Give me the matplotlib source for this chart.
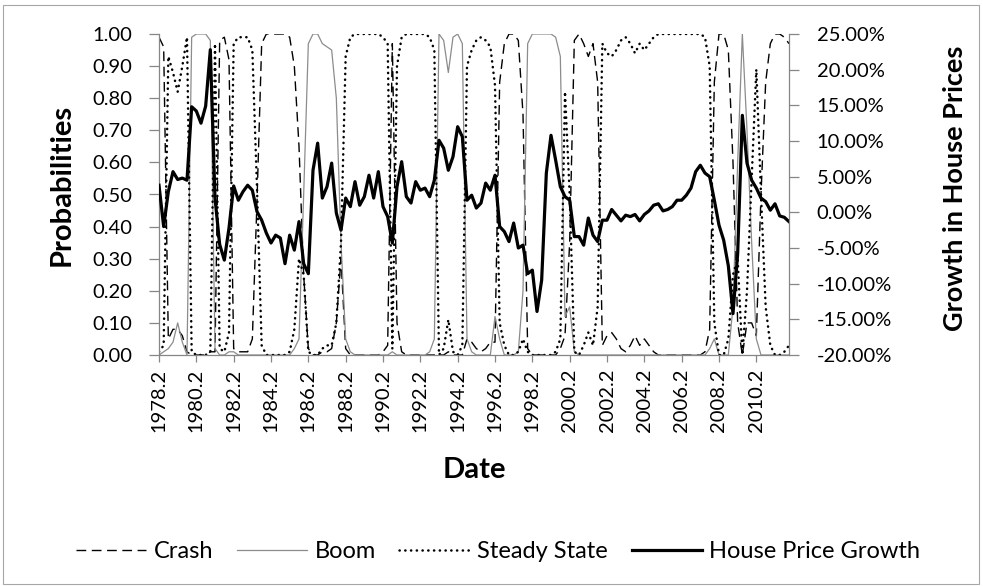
import matplotlib
matplotlib.use("Agg")
import matplotlib.pyplot as plt
from matplotlib.patches import Rectangle
from matplotlib.ticker import FuncFormatter, MultipleLocator
import numpy as np

plt.rcParams['font.family'] = ['Lato', 'DejaVu Sans']

# quarterly categories 1978.2 .. 2012.1
quarters = ["%d.%d" % ((1978 * 4 + 1 + i) // 4, (1978 * 4 + 1 + i) % 4 + 1) for i in range(136)]

# house price growth, percent
growth = [3.8, -2.0, 2.9, 5.7, 4.6, 4.8, 4.5, 14.8, 14.2, 12.5,
          14.9, 22.8, 2.0, -4.5, -6.7, -2.2, 3.7, 1.7, 2.9, 3.8,
          3.1, 0.1, -1.1, -2.9, -4.3, -3.2, -3.6, -7.2, -3.2, -5.3,
          -1.3, -7.2, -8.6, 5.9, 9.7, 2.0, 3.6, 6.9, -0.1, -2.5,
          2.0, 0.8, 4.3, 1.0, 2.2, 5.2, 2.0, 5.7, 0.8, -0.6,
          -4.3, 3.6, 7.1, 2.2, 1.3, 4.3, 3.1, 3.4, 2.2, 4.5,
          10.1, 9.0, 5.9, 7.8, 12.0, 10.6, 1.7, 2.4, 0.6, 1.3,
          4.1, 3.1, 5.2, -2.0, -2.7, -4.1, -1.5, -5.0, -4.6, -8.6,
          -8.1, -13.9, -9.5, 5.5, 10.8, 7.3, 3.6, 2.2, 1.7, -3.4,
          -3.4, -4.6, -0.8, -3.2, -4.1, -1.1, -1.1, 0.4, -0.4, -1.2,
          -0.4, -0.6, -0.3, -1.2, -0.3, 0.2, 1.0, 1.2, 0.2, 0.4,
          0.8, 1.7, 1.7, 2.4, 3.4, 5.7, 6.6, 5.5, 5.0, 1.7,
          -1.8, -3.9, -7.5, -14.2, -5.8, 13.6, 6.9, 4.5, 3.4, 2.0,
          1.5, 0.3, 1.2, -0.5, -0.7, -1.3]

crash = [0.99, 0.96, 0.05, 0.08, 0.08, 0.06, 0.01, 0.00, 0.00, 0.00,
         0.00, 0.01, 0.01, 0.98, 0.99, 0.92, 0.02, 0.01, 0.01, 0.01,
         0.05, 0.48, 0.97, 1.00, 1.00, 1.00, 1.00, 1.00, 0.99, 0.90,
         0.65, 0.25, 0.02, 0.00, 0.00, 0.01, 0.01, 0.02, 0.10, 0.30,
         0.02, 0.00, 0.00, 0.00, 0.00, 0.00, 0.00, 0.00, 0.01, 0.03,
         0.97, 0.10, 0.01, 0.00, 0.00, 0.00, 0.00, 0.00, 0.00, 0.00,
         0.00, 0.00, 0.01, 0.00, 0.00, 0.00, 0.05, 0.04, 0.02, 0.01,
         0.02, 0.04, 0.04, 0.85, 0.97, 1.00, 1.00, 0.98, 0.75, 0.02,
         0.00, 0.00, 0.00, 0.00, 0.00, 0.00, 0.02, 0.06, 0.35, 0.98,
         1.00, 0.97, 0.93, 0.97, 0.85, 0.03, 0.06, 0.07, 0.05, 0.02,
         0.01, 0.03, 0.06, 0.03, 0.05, 0.03, 0.01, 0.00, 0.00, 0.00,
         0.00, 0.00, 0.00, 0.00, 0.00, 0.00, 0.00, 0.01, 0.08, 0.85,
         1.00, 1.00, 0.95, 0.60, 0.10, 0.00, 0.10, 0.10, 0.06, 0.50,
         0.85, 0.97, 1.00, 1.00, 0.99, 0.97]

boom = [0.00, 0.01, 0.02, 0.04, 0.10, 0.04, 0.00, 0.99, 1.00, 1.00,
        1.00, 0.98, 0.02, 0.00, 0.00, 0.01, 0.01, 0.00, 0.00, 0.00,
        0.00, 0.00, 0.00, 0.00, 0.00, 0.00, 0.00, 0.00, 0.00, 0.02,
        0.05, 0.50, 0.97, 1.00, 1.00, 0.97, 0.96, 0.95, 0.80, 0.35,
        0.05, 0.01, 0.00, 0.00, 0.00, 0.00, 0.00, 0.00, 0.00, 0.00,
        0.01, 0.00, 0.00, 0.00, 0.00, 0.00, 0.00, 0.00, 0.01, 0.05,
        1.00, 0.98, 0.88, 0.99, 1.00, 0.97, 0.05, 0.01, 0.00, 0.00,
        0.00, 0.00, 0.12, 0.05, 0.00, 0.00, 0.00, 0.01, 0.20, 0.97,
        1.00, 1.00, 1.00, 1.00, 1.00, 0.99, 0.93, 0.12, 0.15, 0.01,
        0.00, 0.00, 0.00, 0.00, 0.00, 0.00, 0.00, 0.00, 0.00, 0.00,
        0.00, 0.00, 0.00, 0.00, 0.00, 0.00, 0.00, 0.00, 0.00, 0.00,
        0.00, 0.00, 0.00, 0.00, 0.00, 0.00, 0.00, 0.00, 0.02, 0.05,
        0.00, 0.00, 0.00, 0.15, 0.60, 1.00, 0.70, 0.35, 0.05, 0.00,
        0.00, 0.00, 0.00, 0.00, 0.00, 0.00]

steady = [0.01, 0.03, 0.93, 0.88, 0.82, 0.90, 0.99, 0.01, 0.00, 0.00,
          0.00, 0.01, 0.97, 0.02, 0.01, 0.07, 0.97, 0.99, 0.99, 0.99,
          0.95, 0.52, 0.03, 0.00, 0.00, 0.00, 0.00, 0.00, 0.01, 0.08,
          0.30, 0.25, 0.01, 0.00, 0.00, 0.02, 0.03, 0.03, 0.10, 0.35,
          0.93, 0.99, 1.00, 1.00, 1.00, 1.00, 1.00, 1.00, 0.99, 0.97,
          0.02, 0.90, 0.99, 1.00, 1.00, 1.00, 1.00, 1.00, 0.99, 0.95,
          0.00, 0.02, 0.11, 0.01, 0.00, 0.03, 0.90, 0.95, 0.98, 0.99,
          0.98, 0.96, 0.84, 0.10, 0.03, 0.00, 0.00, 0.01, 0.05, 0.01,
          0.00, 0.00, 0.00, 0.00, 0.00, 0.01, 0.05, 0.82, 0.50, 0.01,
          0.00, 0.03, 0.07, 0.03, 0.15, 0.97, 0.94, 0.93, 0.95, 0.98,
          0.99, 0.97, 0.94, 0.97, 0.95, 0.97, 0.99, 1.00, 1.00, 1.00,
          1.00, 1.00, 1.00, 1.00, 1.00, 1.00, 1.00, 0.99, 0.90, 0.10,
          0.00, 0.00, 0.05, 0.25, 0.30, 0.00, 0.20, 0.55, 0.89, 0.50,
          0.15, 0.03, 0.00, 0.00, 0.01, 0.03]

axis_grey = '#868686'
x = np.arange(len(quarters))

fig = plt.figure(figsize=(9.83, 5.86), dpi=100)
ax = fig.add_axes([159 / 983, 1 - 355 / 586, 630 / 983, 321 / 586])
ax2 = ax.twinx()

l1, = ax.plot(x, crash, color='black', lw=1.0, linestyle=(0, (7, 4)))
l2, = ax.plot(x, boom, color='#8c8c8c', lw=0.9)
l3, = ax.plot(x, steady, color='black', lw=1.8, linestyle=(0, (0.1, 2.2)),
              dash_capstyle='round')
l4, = ax2.plot(x, growth, color='black', lw=2.3)

ax.set_xlim(0, len(quarters) - 1)
ax.set_ylim(0, 1)
ax2.set_ylim(-20, 25)
ax.yaxis.set_major_locator(MultipleLocator(0.1))
ax2.yaxis.set_major_locator(MultipleLocator(5))
ax.yaxis.set_major_formatter(FuncFormatter(lambda v, p: "%.2f" % v))
ax2.yaxis.set_major_formatter(FuncFormatter(lambda v, p: "%.2f%%" % v))

ax.set_xticks(x[::8])
ax.set_xticklabels(quarters[::8], rotation=90)

for s in ['top', 'right']:
    ax.spines[s].set_visible(False)
for s in ['top', 'left', 'bottom']:
    ax2.spines[s].set_visible(False)
for sp in [ax.spines['left'], ax.spines['bottom'], ax2.spines['right']]:
    sp.set_color(axis_grey)
    sp.set_linewidth(0.9)

ax.tick_params(axis='y', direction='out', length=7, width=0.9, color=axis_grey,
               labelsize=14.5, pad=12)
ax.tick_params(axis='x', direction='out', length=5, width=0.9, color=axis_grey,
               labelsize=14.5, pad=5)
ax2.tick_params(axis='y', direction='out', length=7, width=0.9, color=axis_grey,
                labelsize=14.5, pad=13)

fig.text(62 / 983, 1 - 185 / 586, 'Probabilities', rotation=90, ha='center', va='center',
         fontsize=21, fontweight='bold')
fig.text(955 / 983, 1 - 188 / 586, 'Growth in House Prices', rotation=90, ha='center',
         va='center', fontsize=19.5, fontweight='bold')
fig.text(474 / 983, 1 - 470 / 586, 'Date', ha='center', va='center',
         fontsize=21, fontweight='bold')

fig.legend([l1, l2, l3, l4], ['Crash', 'Boom', 'Steady State', 'House Price Growth'],
           loc='center', bbox_to_anchor=(498 / 983, 1 - 552 / 586), ncol=4, frameon=False,
           fontsize=17, handlelength=3.0, handletextpad=0.3, columnspacing=1.0)

fig.add_artist(Rectangle((3 / 983, 2 / 586), 976 / 983, 579 / 586, transform=fig.transFigure,
                         fill=False, edgecolor='#a6a6a6', lw=0.8))

fig.savefig('out.png', dpi=100)
